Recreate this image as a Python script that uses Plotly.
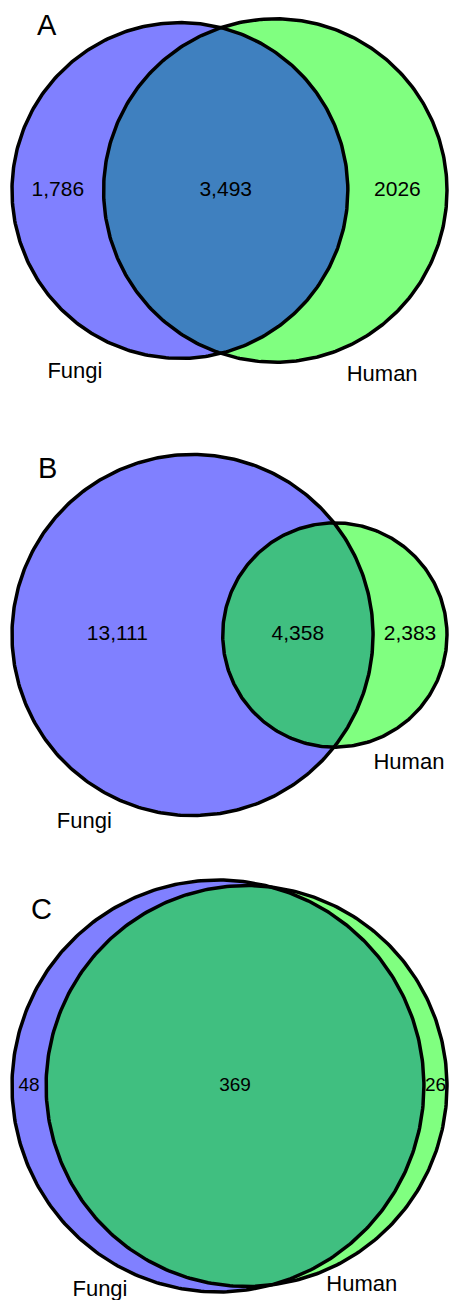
import numpy as np
import plotly.graph_objects as go

# ---- data ----
panels = ["A", "B", "C"]
set_names = ["Fungi", "Human"]
fungi_only = [1786, 13111, 48]
shared = [3493, 4358, 369]
human_only = [2026, 2383, 26]
fungi_only_text = ["1,786", "13,111", "48"]
shared_text = ["3,493", "4,358", "369"]
human_only_text = ["2026", "2,383", "26"]

# ---- style / layout ----
W, H = 449, 1300
left_edge, right_edge = 12, 447
center_y = [190.5, 635, 1086]
letter_pos = [(47, 25), (47, 468), (41, 909)]
cat_offset = [42, 36, 30]
num_font = [21, 21, 19]
FUNGI = "#8080FF"
HUMAN = "#80FF80"
OVERLAP = ["#3F80BF", "#40BF80", "#40BF80"]
FONT = "Liberation Sans, Arial, sans-serif"
LW = 3.5


def lens_area(r1, r2, d):
    if d >= r1 + r2:
        return 0.0
    if d <= abs(r1 - r2):
        return np.pi * min(r1, r2) ** 2
    a1 = np.arccos((d * d + r1 * r1 - r2 * r2) / (2 * d * r1))
    a2 = np.arccos((d * d + r2 * r2 - r1 * r1) / (2 * d * r2))
    k = 0.5 * np.sqrt((-d + r1 + r2) * (d + r1 - r2) * (d - r1 + r2) * (d + r1 + r2))
    return r1 * r1 * a1 + r2 * r2 * a2 - k


def solve_d(r1, r2, target):
    lo, hi = abs(r1 - r2), r1 + r2
    for _ in range(200):
        mid = 0.5 * (lo + hi)
        if lens_area(r1, r2, mid) > target:
            lo = mid
        else:
            hi = mid
    return 0.5 * (lo + hi)


fig = go.Figure()


def circle_pts(cx, cy, r, t0=0, t1=2 * np.pi, n=400):
    t = np.linspace(t0, t1, n)
    return cx + r * np.cos(t), cy + r * np.sin(t)


for i in range(3):
    n1 = fungi_only[i] + shared[i]
    n2 = human_only[i] + shared[i]
    r1 = np.sqrt(n1 / np.pi)
    r2 = np.sqrt(n2 / np.pi)
    d = solve_d(r1, r2, shared[i])
    s = (right_edge - left_edge) / (r1 + d + r2)
    r1, r2, d = r1 * s, r2 * s, d * s
    cy = center_y[i]
    x1 = left_edge + r1
    x2 = x1 + d

    # fills
    for cx, r, col in [(x1, r1, FUNGI), (x2, r2, HUMAN)]:
        xs, ys = circle_pts(cx, cy, r)
        fig.add_trace(go.Scatter(x=xs, y=ys, mode="lines", fill="toself",
                                 fillcolor=col, line=dict(width=0, color=col),
                                 hoverinfo="skip", showlegend=False))
    # lens
    a = (d * d + r1 * r1 - r2 * r2) / (2 * d)
    h = np.sqrt(max(r1 * r1 - a * a, 0))
    th1 = np.arctan2(h, a)
    ph2 = np.arctan2(h, a - d)
    ax1, ay1 = circle_pts(x1, cy, r1, -th1, th1)
    ax2, ay2 = circle_pts(x2, cy, r2, ph2, 2 * np.pi - ph2)
    lx = np.concatenate([ax1, ax2])
    ly = np.concatenate([ay1, ay2])
    fig.add_trace(go.Scatter(x=lx, y=ly, mode="lines", fill="toself",
                             fillcolor=OVERLAP[i], line=dict(width=0, color=OVERLAP[i]),
                             hoverinfo="skip", showlegend=False))
    # outlines
    for cx, r in [(x1, r1), (x2, r2)]:
        xs, ys = circle_pts(cx, cy, r)
        fig.add_trace(go.Scatter(x=xs, y=ys, mode="lines",
                                 line=dict(width=LW, color="black"),
                                 hoverinfo="skip", showlegend=False))
    # region numbers
    lx_pos = [(left_edge + (x2 - r2)) / 2,
              ((x2 - r2) + (x1 + r1)) / 2,
              ((x1 + r1) + right_edge) / 2]
    fig.add_trace(go.Scatter(x=lx_pos, y=[cy] * 3, mode="text",
                             text=[fungi_only_text[i], shared_text[i], human_only_text[i]],
                             textposition="middle center",
                             textfont=dict(size=num_font[i], color="black", family=FONT),
                             hoverinfo="skip", showlegend=False, cliponaxis=False))
    # category labels
    ang = np.radians(30)
    fx = x1 - (r1 + cat_offset[i]) * np.sin(ang)
    fy = cy + (r1 + cat_offset[i]) * np.cos(ang)
    hx = x2 + (r2 + cat_offset[i]) * np.sin(ang)
    hy = cy + (r2 + cat_offset[i]) * np.cos(ang)
    fig.add_trace(go.Scatter(x=[fx, hx], y=[fy, hy], mode="text",
                             text=set_names, textposition="middle center",
                             textfont=dict(size=22, color="black", family=FONT),
                             hoverinfo="skip", showlegend=False, cliponaxis=False))
    # panel letter
    fig.add_annotation(x=letter_pos[i][0], y=letter_pos[i][1], text=panels[i],
                       showarrow=False, xanchor="center", yanchor="middle",
                       font=dict(size=29, color="black", family=FONT))

fig.update_layout(
    width=W, height=H,
    margin=dict(l=0, r=0, t=0, b=0),
    paper_bgcolor="white", plot_bgcolor="white",
    xaxis=dict(range=[0, W], visible=False, fixedrange=True),
    yaxis=dict(range=[H, 0], visible=False, fixedrange=True),
    showlegend=False,
)
fig.write_html(
    "out.html",
    config={"displayModeBar": False},
    post_script="document.body.style.margin='0';document.body.style.overflow='hidden';",
)
